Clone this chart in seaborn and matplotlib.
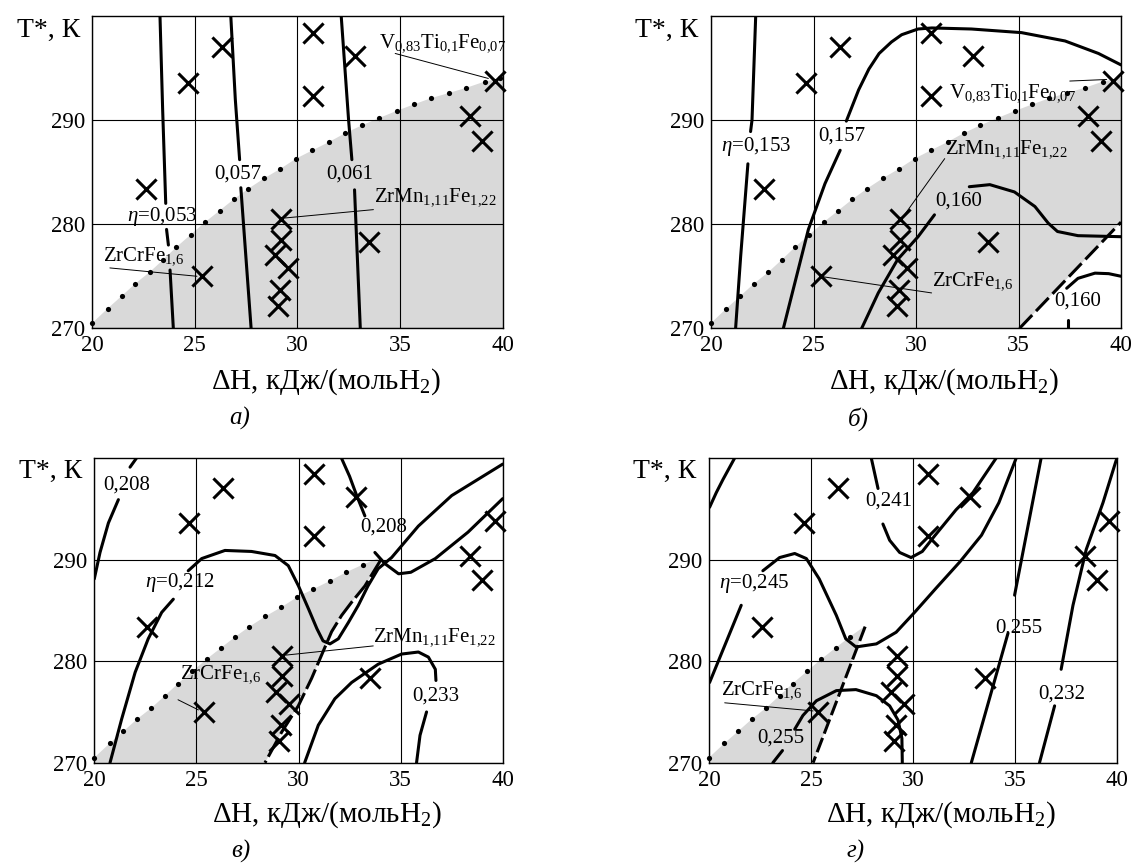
import numpy as np
import pandas as pd
import matplotlib
matplotlib.use("Agg")
import matplotlib.pyplot as plt
import seaborn as sns

try:  # keep decimal commas in subscripts tight
    from matplotlib import _mathtext
    _mathtext.Parser._punctuation_symbols = set(_mathtext.Parser._punctuation_symbols) - {","}
except Exception:
    pass

# ---------------- data ----------------
# experimental alloys (same in every panel)
mark_dh = [22.6, 24.65, 26.3, 30.75, 30.75, 32.8, 39.6, 38.4, 39.0,
           29.2, 29.2, 28.9, 29.55, 29.15, 29.05, 33.5, 25.35]
mark_t = [283.4, 293.6, 297.0, 298.4, 292.3, 296.2, 293.8, 290.4, 288.0,
          280.5, 278.5, 277.0, 275.8, 273.7, 272.1, 278.3, 275.0]

# dotted boundary
bound_dh = [20.0, 20.75, 21.43, 22.1, 22.8, 23.46, 24.1, 24.8, 25.5, 26.2, 26.9,
            27.6, 28.37, 29.15, 29.93, 30.73, 31.54, 32.33, 33.14, 33.98, 34.85,
            35.66, 36.5, 37.37, 38.23, 39.12, 39.85]
bound_t = [270.5, 271.9, 273.1, 274.3, 275.4, 276.6, 277.8, 279.0, 280.2, 281.3, 282.4,
           283.4, 284.4, 285.3, 286.3, 287.1, 287.9, 288.75, 289.5, 290.2, 290.9,
           291.5, 292.1, 292.6, 293.1, 293.7, 294.0]
dots_last_dh = [39.9, 39.2, 33.2, 26.95]

# shaded region: right / lower edges
a_edge_dh = [40.0, 40.0]
a_edge_t = [294.1, 270.0]
b_edge_dh = [40.0, 40.0, 35.05]
b_edge_t = [294.1, 280.2, 270.0]
c_edge_dh = [34.07, 33.25, 32.6, 32.11, 31.62, 31.13, 30.64, 29.99, 29.17, 28.36]
c_edge_t = [290.1, 287.4, 285.8, 284.5, 282.9, 280.6, 278.3, 275.6, 273.0, 270.0]
d_edge_dh = [27.65, 25.1]
d_edge_t = [283.4, 270.0]

nan = np.nan
# ---- panel a ----
a_eta053_dh = [23.30, 23.43, 23.58, nan, 23.62, 23.71, nan, 23.79, 23.95]
a_eta053_t = [300.0, 291.0, 282.0, nan, 279.5, 278.0, nan, 275.6, 270.0]
a_057_dh = [26.75, 26.97, 27.18, nan, 27.24, 27.74]
a_057_t = [300.0, 292.0, 286.2, nan, 283.5, 270.0]
a_061_dh = [32.13, 32.49, 32.65, nan, 32.78, 33.06]
a_061_t = [300.0, 290.0, 286.2, nan, 283.3, 270.0]

# ---- panel b ----
b_153_dh = [22.18, 22.0, 21.93, nan, 21.8, 21.45, 21.2]
b_153_t = [300.0, 290.0, 288.9, nan, 285.8, 277.0, 270.0]
b_157_dh = [23.53, 24.75, 25.56, 26.3, nan, 26.6, 27.2, 27.7, 28.2, 28.8, 29.3, 30.1, 30.77,
            32.7, 35.15, 37.27, 38.9, 40.0]
b_157_t = [270.0, 279.5, 283.9, 287.1, nan, 289.9, 292.9, 294.9, 296.4, 297.5, 298.2, 298.75,
           298.85, 298.75, 298.4, 297.6, 296.4, 295.3]
b_160m_dh = [27.35, 28.16, 29.1, 30.1, 30.9]
b_160m_t = [270.0, 273.4, 276.6, 278.8, 280.9]
b_160r_dh = [32.6, 33.6, 34.8, 35.8, 36.45, 36.9, 37.9, 40.0]
b_160r_t = [283.6, 283.8, 283.1, 281.7, 280.1, 279.3, 278.9, 278.8]
b_160l_dh = [37.4, 37.4, nan, 37.35, 37.9, 38.73, 39.4, 40.0]
b_160l_t = [270.0, 270.8, nan, 273.85, 274.8, 275.3, 275.25, 275.0]
b_dash_dh = [35.05, 40.0]
b_dash_t = [270.0, 280.2]

# ---- panel c ----
c_208a_dh = [20.0, 20.28, 20.69, 21.18, nan, 21.75, 22.07]
c_208a_t = [288.1, 290.7, 293.6, 295.9, nan, 299.1, 300.0]
c_212_dh = [20.77, 21.34, 22.0, 22.64, 23.3, 23.87, nan, 24.6, 25.26, 26.4, 27.7, 28.85,
            29.5, 30.0, 30.5, 30.9, 31.2, 31.54, 31.95, 32.44, 32.93, 33.4, 33.9, 34.56,
            35.87, 37.5, 40.0]
c_212_t = [270.0, 274.3, 278.9, 282.2, 284.8, 286.1, nan, 288.9, 290.1, 290.9, 290.8, 290.4,
           289.4, 287.4, 285.1, 283.2, 282.0, 281.7, 282.2, 283.8, 285.5, 287.4, 289.1, 290.2,
           293.3, 296.3, 299.4]
c_208b_dh = [32.1, 32.5, 32.85, 33.25, nan, 33.74, 34.23, 34.9, 35.5, 36.7, 38.3, 40.0]
c_208b_t = [300.0, 298.2, 296.3, 294.3, nan, 290.7, 289.6, 288.6, 288.75, 290.1, 292.7, 296.0]
c_233_dh = [30.3, 30.97, 31.78, 32.6, 33.9, 35.05, 35.87, 36.36, 36.7, 36.73, nan,
            36.27, 35.95, 35.78]
c_233_t = [270.0, 273.7, 276.3, 277.9, 279.7, 280.7, 280.9, 280.4, 279.2, 278.1, nan,
           275.0, 272.7, 270.0]

# ---- panel d ----
d_arc_dh = [20.03, 20.36, 20.69, 21.26]
d_arc_t = [295.15, 296.6, 297.9, 300.0]
d_245_dh = [20.03, 21.58, nan, 22.64, 23.46, 24.2, 24.77, 25.4, 26.24, 26.7, 27.2, 28.2,
            29.17, 30.07, 31.13, 32.3, 33.35, 34.2, 35.05]
d_245_t = [277.9, 285.5, nan, 288.9, 290.2, 290.6, 290.1, 288.1, 284.5, 282.2, 281.4, 281.7,
           282.85, 284.8, 287.2, 289.8, 292.4, 295.6, 300.0]
d_241_dh = [27.95, 28.28, nan, 28.52, 28.85, 29.34, 29.9, 30.45, 31.04, 32.1, 32.93, 34.07]
d_241_t = [300.0, 297.0, nan, 293.5, 291.9, 290.7, 290.2, 290.8, 292.3, 294.9, 296.6, 300.0]
d_255r_dh = [32.85, 34.64, nan, 34.97, 35.54, 36.27]
d_255r_t = [270.0, 282.7, nan, 286.5, 292.4, 300.0]
d_232_dh = [36.19, 36.93, nan, 37.25, 37.83, 38.48, 39.3, 39.95]
d_232_t = [270.0, 275.6, nan, 279.2, 285.5, 291.0, 295.6, 299.8]
d_255a_dh = [23.13, 23.6, nan, 24.2, 24.6, 25.26, 26.24, 27.2, 28.2, 28.85, 29.26, 29.45, 29.47]
d_255a_t = [270.0, 271.2, nan, 273.3, 274.65, 276.1, 277.1, 277.2, 276.6, 275.6, 274.2, 272.4, 270.0]

# labels: text, dH, T, horizontal alignment
ZRMN = r"ZrMn$_{\mathrm{1,11}}$Fe$_{\mathrm{1,22}}$"
VTI = r"V$_{\mathrm{0,83}}$Ti$_{\mathrm{0,1}}$Fe$_{\mathrm{0,07}}$"
ZRCR = r"ZrCrFe$_{\mathrm{1,6}}$"
a_labels = [(r"$\eta$=0,053", 23.4, 280.7, "center"), ("0,057", 27.1, 284.85, "center"),
            ("0,061", 32.55, 284.8, "center"), (ZRMN, 33.75, 282.6, "left"),
            (VTI, 33.95, 297.4, "left"), (ZRCR, 20.5, 276.9, "left")]
b_labels = [(r"$\eta$=0,153", 22.2, 287.5, "center"), ("0,157", 26.4, 288.5, "center"),
            ("0,160", 32.1, 282.2, "center"), ("0,160", 37.9, 272.6, "center"),
            (VTI, 31.6, 292.6, "left"), (ZRMN, 31.4, 287.2, "left"), (ZRCR, 30.8, 274.5, "left")]
c_labels = [("0,208", 21.6, 297.3, "center"), (r"$\eta$=0,212", 24.2, 287.7, "center"),
            ("0,208", 34.15, 293.2, "center"), ("0,233", 36.7, 276.6, "center"),
            (ZRMN, 33.66, 282.4, "left"), (ZRCR, 24.2, 278.7, "left")]
d_labels = [(r"$\eta$=0,245", 22.2, 287.6, "center"), ("0,241", 28.8, 295.8, "center"),
            ("0,255", 35.2, 283.3, "center"), ("0,232", 37.3, 276.8, "center"),
            ("0,255", 23.5, 272.4, "center"), (ZRCR, 20.6, 277.2, "left")]

# leader lines: from (dH, T) to (dH, T)
a_leaders = [((33.7, 281.4), (29.4, 280.6)), ((34.76, 296.4), (39.3, 294.0)),
             ((20.86, 275.8), (25.1, 275.0))]
b_leaders = [((37.5, 293.75), (39.3, 293.9)), ((31.4, 286.3), (29.4, 280.8)),
             ((30.76, 273.4), (25.3, 275.0))]
c_leaders = [((33.66, 281.5), (29.4, 280.6)), ((24.1, 276.2), (25.1, 275.2))]
d_leaders = [((20.77, 275.9), (25.1, 275.1))]

captions = ["а)", "б)", "в)", "г)"]
x_ticks = [20, 25, 30, 35, 40]
y_ticks = [270, 280, 290]

# ---------------- style ----------------
sns.set_theme(style="white")
plt.rcParams["font.family"] = ["Liberation Serif", "DejaVu Serif"]
plt.rcParams["mathtext.fontset"] = "custom"
plt.rcParams["mathtext.rm"] = "Liberation Serif"
plt.rcParams["mathtext.it"] = "Liberation Serif:italic"
plt.rcParams["mathtext.bf"] = "Liberation Serif:bold"

fig = plt.figure(figsize=(11.32, 8.64), dpi=100)
fig.patch.set_facecolor("white")
rects = [[0.0815, 0.6200, 0.3626, 0.3615], [0.6281, 0.6200, 0.3622, 0.3615],
         [0.0833, 0.1172, 0.3608, 0.3527], [0.6263, 0.1172, 0.3607, 0.3527]]

LW = 2.2


def draw_curve(ax, xs, ys, ls="-"):
    xs = np.asarray(xs, float)
    ys = np.asarray(ys, float)
    brk = np.where(np.isnan(xs))[0]
    for seg in np.split(np.arange(len(xs)), brk):
        seg = seg[~np.isnan(xs[seg])]
        if len(seg) < 2:
            continue
        df = pd.DataFrame({"dh": xs[seg], "t": ys[seg]})
        sns.lineplot(data=df, x="dh", y="t", sort=False, estimator=None,
                     color="black", lw=LW, linestyle=ls, ax=ax, zorder=3)


panels = [
    dict(curves=[(a_eta053_dh, a_eta053_t, "-"), (a_057_dh, a_057_t, "-"), (a_061_dh, a_061_t, "-")],
         edge=(a_edge_dh, a_edge_t), labels=a_labels, leaders=a_leaders),
    dict(curves=[(b_153_dh, b_153_t, "-"), (b_157_dh, b_157_t, "-"), (b_160m_dh, b_160m_t, "-"),
                 (b_160r_dh, b_160r_t, "-"), (b_160l_dh, b_160l_t, "-"),
                 (b_dash_dh, b_dash_t, (0, (6, 1.8)))],
         edge=(b_edge_dh, b_edge_t), labels=b_labels, leaders=b_leaders),
    dict(curves=[(c_208a_dh, c_208a_t, "-"), (c_212_dh, c_212_t, "-"), (c_208b_dh, c_208b_t, "-"),
                 (c_233_dh, c_233_t, "-"), (c_edge_dh, c_edge_t, (0, (7, 1.5)))],
         edge=(c_edge_dh, c_edge_t), labels=c_labels, leaders=c_leaders),
    dict(curves=[(d_arc_dh, d_arc_t, "-"), (d_245_dh, d_245_t, "-"), (d_241_dh, d_241_t, "-"),
                 (d_255r_dh, d_255r_t, "-"), (d_232_dh, d_232_t, "-"), (d_255a_dh, d_255a_t, "-"),
                 (d_edge_dh, d_edge_t, (0, (5, 1.5)))],
         edge=(d_edge_dh, d_edge_t), labels=d_labels, leaders=d_leaders),
]

bdh = np.asarray(bound_dh)
bt = np.asarray(bound_t)

for i, p in enumerate(panels):
    ax = fig.add_axes(rects[i])
    ax.set_facecolor("white")
    # shaded region
    ex, ey = p["edge"]
    keep = bdh < ex[0]
    poly_x = [20.0] + list(bdh[keep]) + list(ex)
    poly_y = [270.0] + list(bt[keep]) + list(ey)
    ax.fill(poly_x, poly_y, color="#d9d9d9", lw=0, zorder=0.2)
    # curves
    for xs, ys, ls in p["curves"]:
        draw_curve(ax, xs, ys, ls)
    # dotted boundary
    sel = bdh <= dots_last_dh[i]
    sns.scatterplot(x=bdh[sel], y=bt[sel], marker="o", s=14, color="black",
                    linewidth=0, ax=ax, zorder=3.5, clip_on=False)
    # alloys
    sns.scatterplot(x=mark_dh, y=mark_t, marker="x", s=210, color="black",
                    linewidth=2.2, ax=ax, zorder=4, clip_on=False)
    # leaders
    for (x0, y0), (x1, y1) in p["leaders"]:
        ax.plot([x0, x1], [y0, y1], color="black", lw=0.7, zorder=3)
    # labels
    for txt, x, y, ha in p["labels"]:
        ax.text(x, y, txt, ha=ha, va="center", fontsize=15, color="black", zorder=5)

    ax.set_xlim(20, 40)
    ax.set_ylim(270, 300)
    ax.set_xticks(x_ticks)
    ax.set_yticks(y_ticks)
    ax.set_axisbelow(True)
    ax.grid(True, color="black", lw=0.8)
    for s in ax.spines.values():
        s.set_color("black")
        s.set_linewidth(1.0)
    ax.tick_params(labelsize=16.5, length=0, pad=5, colors="black")
    ax.set_xlabel("")
    ax.set_ylabel("")
    ax.text(-0.03, 0.955, "T*, К", transform=ax.transAxes, ha="right", va="center",
            fontsize=20, color="black")
    ax.text(0.569, -0.17, r"ΔH, кДж/(мольH$_2$)", transform=ax.transAxes, ha="center",
            va="center", fontsize=21, color="black")
    ax.text(0.36, -0.29, captions[i], transform=ax.transAxes, ha="center", va="center",
            fontsize=18, style="italic", color="black")

fig.savefig("out.png", dpi=100, facecolor="white")
